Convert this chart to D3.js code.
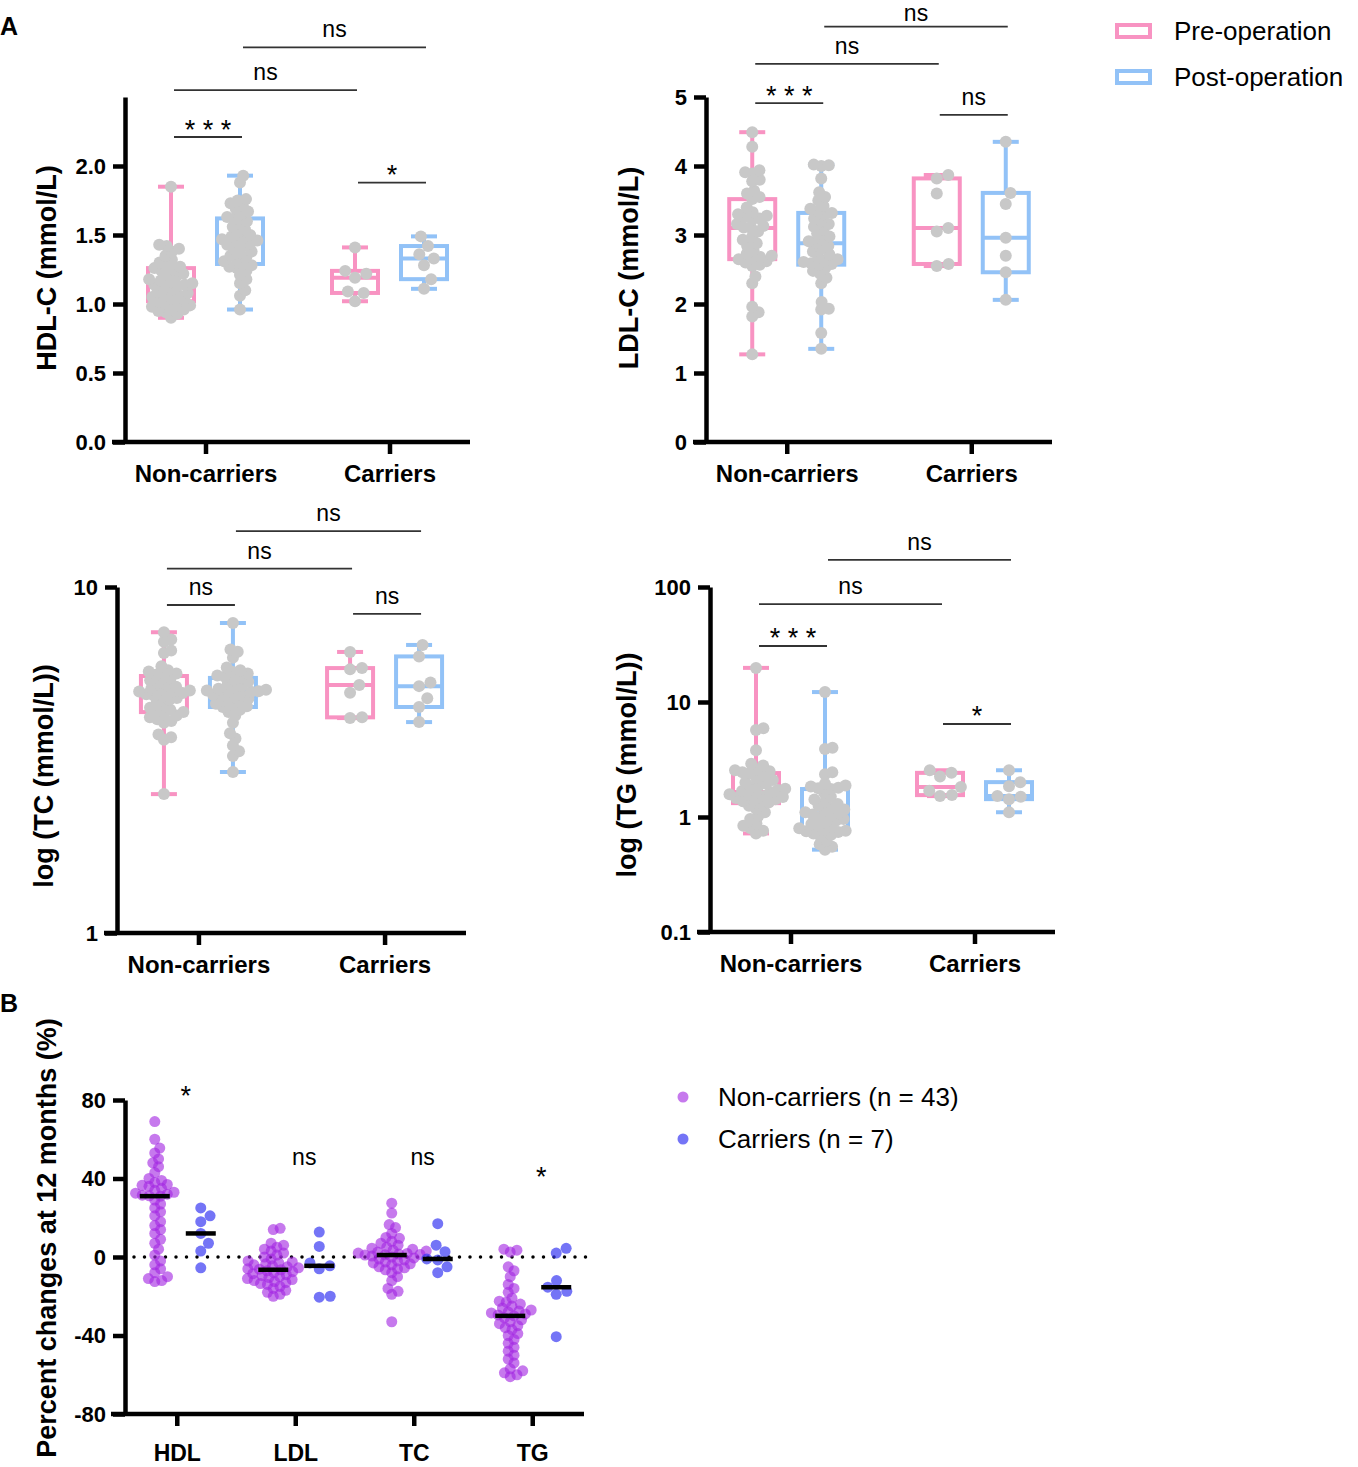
<!DOCTYPE html>
<meta charset="utf-8">
<script src="https://cdn.jsdelivr.net/npm/d3@7/dist/d3.min.js"></script>
<style>

body {
  margin: 0;
  background: #fff;
}

svg {
  font-family: Arial, "Liberation Sans", sans-serif;
}

</style>
<body>
<script>

  //////////////////// Data ////////////////////

  var groups = ["Non-carriers", "Carriers"],
      phases = ["Pre-operation", "Post-operation"],
      lipids = ["HDL", "LDL", "TC", "TG"];

  // HDL-C (mmol/L)
  var hdlPreNC = [1.85, 1.43, 1.42, 1.40, 1.38, 1.35, 1.32, 1.30, 1.28, 1.27, 1.26, 1.25, 1.24, 1.22, 1.21, 1.20, 1.18, 1.17, 1.16, 1.15, 1.14, 1.14, 1.13, 1.12, 1.10, 1.09, 1.08, 1.07, 1.06, 1.05, 1.04, 1.03, 1.02, 1.01, 1.00, 0.99, 0.98, 0.97, 0.96, 0.95, 0.94, 0.93, 0.90],
      hdlPostNC = [1.93, 1.88, 1.76, 1.75, 1.73, 1.71, 1.69, 1.67, 1.65, 1.63, 1.62, 1.60, 1.58, 1.56, 1.54, 1.52, 1.50, 1.49, 1.48, 1.47, 1.46, 1.45, 1.44, 1.43, 1.42, 1.40, 1.38, 1.37, 1.35, 1.34, 1.32, 1.31, 1.29, 1.28, 1.27, 1.26, 1.24, 1.21, 1.18, 1.15, 1.10, 1.06, 0.96],
      hdlPreC = [1.41, 1.24, 1.22, 1.19, 1.09, 1.08, 1.02],
      hdlPostC = [1.49, 1.42, 1.36, 1.33, 1.28, 1.18, 1.11];

  // LDL-C (mmol/L)
  var ldlPreNC = [4.49, 4.28, 3.94, 3.91, 3.89, 3.80, 3.78, 3.64, 3.60, 3.55, 3.52, 3.40, 3.33, 3.30, 3.28, 3.26, 3.24, 3.22, 3.16, 3.13, 3.11, 3.10, 3.05, 2.98, 2.93, 2.88, 2.84, 2.78, 2.73, 2.70, 2.68, 2.66, 2.65, 2.62, 2.60, 2.57, 2.55, 2.40, 2.30, 1.96, 1.88, 1.82, 1.27],
      ldlPostNC = [4.02, 4.01, 4.00, 3.82, 3.62, 3.55, 3.50, 3.42, 3.38, 3.35, 3.32, 3.30, 3.24, 3.20, 3.16, 3.12, 3.08, 3.02, 2.98, 2.94, 2.91, 2.88, 2.84, 2.80, 2.76, 2.72, 2.68, 2.65, 2.63, 2.61, 2.59, 2.58, 2.57, 2.52, 2.48, 2.44, 2.38, 2.30, 2.03, 1.93, 1.92, 1.58, 1.35],
      ldlPreC = [3.87, 3.82, 3.60, 3.10, 3.05, 2.58, 2.55],
      ldlPostC = [4.35, 3.61, 3.45, 2.96, 2.70, 2.46, 2.06];

  // TC (mmol/L), log axis
  var tcPreNC = [7.40, 7.05, 6.95, 6.55, 6.45, 5.90, 5.75, 5.70, 5.62, 5.58, 5.53, 5.45, 5.38, 5.30, 5.22, 5.15, 5.10, 5.06, 5.02, 4.99, 4.96, 4.94, 4.90, 4.86, 4.82, 4.78, 4.72, 4.64, 4.56, 4.48, 4.42, 4.38, 4.35, 4.30, 4.25, 4.20, 4.15, 4.10, 4.05, 3.75, 3.68, 3.62, 2.52],
      tcPostNC = [7.87, 6.60, 6.50, 6.25, 5.85, 5.75, 5.68, 5.62, 5.55, 5.50, 5.46, 5.40, 5.32, 5.25, 5.18, 5.12, 5.08, 5.05, 5.02, 5.00, 4.98, 4.97, 4.92, 4.88, 4.84, 4.80, 4.75, 4.70, 4.65, 4.60, 4.56, 4.52, 4.50, 4.42, 4.35, 4.25, 4.05, 3.78, 3.65, 3.48, 3.35, 3.25, 2.92],
      tcPreC = [6.49, 5.83, 5.78, 5.21, 4.95, 4.20, 4.18],
      tcPostC = [6.80, 6.30, 5.30, 5.17, 4.77, 4.50, 4.07];

  // TG (mmol/L), log axis
  var tgPreNC = [19.8, 5.9, 5.7, 3.8, 2.9, 2.8, 2.6, 2.55, 2.5, 2.45, 2.41, 2.3, 2.2, 2.1, 2.0, 1.95, 1.88, 1.82, 1.76, 1.72, 1.68, 1.65, 1.62, 1.58, 1.55, 1.52, 1.49, 1.46, 1.43, 1.40, 1.37, 1.34, 1.32, 1.25, 1.18, 1.10, 1.02, 0.96, 0.88, 0.84, 0.80, 0.76, 0.72],
      tgPostNC = [12.2, 4.0, 3.9, 2.45, 2.35, 1.95, 1.88, 1.84, 1.80, 1.78, 1.75, 1.62, 1.50, 1.42, 1.36, 1.30, 1.25, 1.20, 1.16, 1.13, 1.10, 1.08, 1.05, 1.02, 0.99, 0.96, 0.93, 0.90, 0.87, 0.84, 0.82, 0.80, 0.77, 0.76, 0.75, 0.74, 0.72, 0.70, 0.68, 0.62, 0.58, 0.55, 0.52],
      tgPreC = [2.55, 2.42, 2.25, 1.82, 1.69, 1.55, 1.52],
      tgPostC = [2.55, 2.01, 1.85, 1.52, 1.50, 1.43, 1.10];

  // Significance brackets: [from box, to box, height in data units, label]
  // boxes: 0 pre/non-carriers, 1 post/non-carriers, 2 pre/carriers, 3 post/carriers
  var sigHdl = [[0, 1, 2.21, "* * *"], [0, 2, 2.55, "ns"], [1, 3, 2.86, "ns"], [2, 3, 1.88, "*"]],
      sigLdl = [[0, 1, 4.91, "* * *"], [0, 2, 5.48, "ns"], [1, 3, 6.02, "ns"], [2, 3, 4.74, "ns"]],
      sigTc = [[0, 1, 8.87, "ns"], [0, 2, 11.3, "ns"], [1, 3, 14.5, "ns"], [2, 3, 8.36, "ns"]],
      sigTg = [[0, 1, 30.7, "* * *"], [0, 2, 71, "ns"], [1, 3, 172, "ns"], [2, 3, 6.44, "*"]];

  // Percent changes at 12 months (%)
  var chgHdlNC = [69, 60, 55.5, 53, 50, 48, 46, 43, 40, 39, 38, 37, 36.5, 36, 35, 34, 33, 32.5, 32, 31.5, 31.2, 31, 29, 27, 25, 23, 21, 18, 16, 14, 12, 9, 7, 4, 1, -2, -4, -6, -8, -10, -11, -12, -12.5],
      chgLdlNC = [14.6, 14, 7, 6, 5, 4, 3, 2, 1, 0, -1, -2, -2.5, -3, -3.5, -4, -4.5, -5, -5.5, -6, -6.2, -6.5, -7, -7.5, -8, -8.5, -9, -9.5, -10, -10.5, -11, -11.5, -12, -12.5, -13, -13.5, -14, -15, -16, -17, -18, -19, -20],
      chgTcNC = [27.4, 22.4, 16.5, 15, 12, 10, 9.5, 8, 7, 6, 5, 4.5, 4, 3.5, 3, 2.5, 2, 1.8, 1.5, 1.3, 1.1, 1, 0.5, 0, -0.5, -1, -1.5, -2, -2.5, -3, -3.5, -4, -5, -5.5, -6, -6.5, -8, -10, -12, -16, -17.5, -19, -33],
      chgTgNC = [4, 3.5, 2.5, -5, -7, -10, -14, -16, -18, -21, -23, -22.5, -24, -25, -26, -27, -27.5, -28, -28.5, -29, -29.5, -30, -31, -32, -33, -34, -35, -36, -37, -39, -40, -42, -44, -46, -48, -50, -52, -54, -57, -58, -59, -60, -61];
  var chgHdlC = [25, 21, 18, 12, 7, 3, -5.5],
      chgLdlC = [12.7, 5.4, -3, -4.5, -6, -20, -20.5],
      chgTcC = [17, 6, 2.7, -1, -1.5, -5, -8],
      chgTgC = [4.4, 2, -12, -15.4, -17.5, -19, -40.6];
  var sigChg = ["*", "ns", "ns", "*"],
      sigChgY = [77.5, 47, 47, 36.2];

  //////////////////// Setup ////////////////////

  var pink = "#f893c2",
      blue = "#92c2f7",
      purple = "#a326e2",
      navy = "#3232f2",
      grey = "#c8c8c8";

  var svg = d3.select("body").append("svg")
    .attr("width", 1358)
    .attr("height", 1467);

  // quartile, GraphPad style (n+1 positions)
  function quart(s, p) {
    var pos = (s.length + 1) * p - 1,
        lo = Math.max(0, Math.floor(pos)),
        hi = Math.min(s.length - 1, lo + 1);
    return s[lo] + (s[hi] - s[lo]) * (pos - lo);
  }

  // simple beeswarm: spread points sideways so they do not pile up
  function swarm(vals, y, cx, dmin) {
    var placed = [];
    vals.slice().sort(d3.ascending).forEach(function(v) {
      var py = y(v);
      var near = placed.filter(function(p) { return Math.abs(p.y - py) < dmin; });
      var cands = [0];
      near.forEach(function(p) {
        var dx = Math.sqrt(dmin * dmin - (p.y - py) * (p.y - py));
        cands.push(p.x - cx + dx, p.x - cx - dx);
      });
      cands.sort(function(a, b) { return Math.abs(a) - Math.abs(b); });
      var off = cands.find(function(c) {
        return near.every(function(p) {
          var dx = p.x - cx - c, dy = p.y - py;
          return dx * dx + dy * dy >= dmin * dmin - 0.01;
        });
      });
      placed.push({v: v, x: cx + off, y: py});
    });
    return placed;
  }

  function styleAxis(sel, size) {
    sel.select(".domain").attr("stroke", "#000").attr("stroke-width", 4.5);
    sel.selectAll(".tick line").attr("stroke", "#000").attr("stroke-width", 4.5);
    sel.selectAll(".tick text")
      .attr("fill", "#000")
      .attr("font-size", size + "px")
      .attr("font-weight", "bold");
  }

  //////////////////// Box panels (A) ////////////////////

  function boxPanel(p) {
    var g = svg.append("g");

    var y = (p.log ? d3.scaleLog() : d3.scaleLinear())
      .domain(p.domain)
      .range([p.bottom, p.top]);

    var xg = d3.scalePoint()
      .domain(groups)
      .range([p.left, p.right])
      .padding(0.4375);

    var xs = function(i) { return xg(groups[i >> 1]) + (i % 2 ? 34.5 : -34.5); };

    // boxes and whiskers
    p.series.forEach(function(vals, i) {
      var s = vals.slice().sort(d3.ascending),
          cx = xs(i),
          q1 = quart(s, 0.25), md = quart(s, 0.5), q3 = quart(s, 0.75),
          lo = s[0], hi = s[s.length - 1];

      var b = g.append("g")
        .attr("stroke", i % 2 ? blue : pink)
        .attr("stroke-width", 4)
        .attr("fill", "none");

      b.append("line").attr("x1", cx).attr("x2", cx).attr("y1", y(hi)).attr("y2", y(q3));
      b.append("line").attr("x1", cx).attr("x2", cx).attr("y1", y(q1)).attr("y2", y(lo));
      b.append("line").attr("x1", cx - 13).attr("x2", cx + 13).attr("y1", y(hi)).attr("y2", y(hi));
      b.append("line").attr("x1", cx - 13).attr("x2", cx + 13).attr("y1", y(lo)).attr("y2", y(lo));
      b.append("rect")
        .attr("x", cx - 23)
        .attr("y", y(q3))
        .attr("width", 46)
        .attr("height", y(q1) - y(q3));
      b.append("line").attr("x1", cx - 23).attr("x2", cx + 23).attr("y1", y(md)).attr("y2", y(md));
    });

    // individual values (small groups are spread a bit wider)
    p.series.forEach(function(vals, i) {
      g.append("g").selectAll("circle")
        .data(swarm(vals, y, xs(i), vals.length < 10 ? 12 : 7.6))
        .join("circle")
        .attr("cx", function(d) { return d.x; })
        .attr("cy", function(d) { return d.y; })
        .attr("r", 6)
        .attr("fill", grey);
    });

    // y axis
    var yAxis = d3.axisLeft(y)
      .tickValues(p.ticks)
      .tickFormat(p.fmt)
      .tickSize(12)
      .tickSizeOuter(0)
      .tickPadding(7);

    g.append("g")
      .attr("transform", "translate(" + p.left + ",0)")
      .call(yAxis)
      .call(styleAxis, 22);

    // x axis
    g.append("line")
      .attr("x1", p.left - 13).attr("x2", p.right)
      .attr("y1", p.bottom).attr("y2", p.bottom)
      .attr("stroke", "#000")
      .attr("stroke-width", 4.5);

    g.append("g")
      .attr("transform", "translate(0," + p.bottom + ")")
      .call(d3.axisBottom(xg).tickSize(12).tickPadding(11))
      .call(styleAxis, 24)
      .select(".domain").remove();

    // y title
    g.append("text")
      .attr("transform", "translate(" + p.titleX + "," + p.titleY + ") rotate(-90)")
      .attr("text-anchor", "middle")
      .attr("font-size", "27px")
      .attr("font-weight", "bold")
      .text(p.title);

    // significance brackets
    p.sig.forEach(function(b) {
      var x1 = xs(b[0]) + 3, x2 = xs(b[1]) + 2, yy = y(b[2]),
          star = b[3].indexOf("*") >= 0;
      g.append("line")
        .attr("x1", x1).attr("x2", x2)
        .attr("y1", yy).attr("y2", yy)
        .attr("stroke", "#333")
        .attr("stroke-width", 1.8);
      g.append("text")
        .attr("x", (x1 + x2) / 2)
        .attr("y", star ? yy + 1.5 : Math.max(yy - 10, 21))
        .attr("text-anchor", "middle")
        .attr("font-size", star ? "27px" : "23px")
        .text(b[3]);
    });
  }

  boxPanel({
    left: 125, right: 470, top: 97, bottom: 442,
    domain: [0, 2.5], ticks: [0, 0.5, 1, 1.5, 2], fmt: d3.format(".1f"),
    title: "HDL-C (mmol/L)", titleX: 56, titleY: 268,
    series: [hdlPreNC, hdlPostNC, hdlPreC, hdlPostC], sig: sigHdl
  });

  boxPanel({
    left: 706, right: 1052, top: 97, bottom: 442,
    domain: [0, 5], ticks: [0, 1, 2, 3, 4, 5], fmt: d3.format("d"),
    title: "LDL-C (mmol/L)", titleX: 638, titleY: 268,
    series: [ldlPreNC, ldlPostNC, ldlPreC, ldlPostC], sig: sigLdl
  });

  boxPanel({
    left: 117, right: 466, top: 587, bottom: 933, log: true,
    domain: [1, 10], ticks: [1, 10], fmt: function(d) { return String(d); },
    title: "log (TC (mmol/L))", titleX: 53, titleY: 776,
    series: [tcPreNC, tcPostNC, tcPreC, tcPostC], sig: sigTc
  });

  boxPanel({
    left: 710, right: 1055, top: 587, bottom: 932, log: true,
    domain: [0.1, 100], ticks: [0.1, 1, 10, 100], fmt: function(d) { return String(d); },
    title: "log (TG (mmol/L))", titleX: 636, titleY: 765,
    series: [tgPreNC, tgPostNC, tgPreC, tgPostC], sig: sigTg
  });

  // legend A
  var legA = svg.append("g");
  phases.forEach(function(ph, i) {
    legA.append("rect")
      .attr("x", 1117).attr("y", 25 + i * 46)
      .attr("width", 33).attr("height", 12)
      .attr("fill", "none")
      .attr("stroke", i ? blue : pink)
      .attr("stroke-width", 4);
    legA.append("text")
      .attr("x", 1174).attr("y", 40 + i * 46)
      .attr("font-size", "26px")
      .text(ph);
  });

  //////////////////// Percent changes (B) ////////////////////

  var gB = svg.append("g");

  var yB = d3.scaleLinear()
    .domain([-80, 80])
    .range([1414, 1100]);

  var xB = d3.scalePoint()
    .domain(lipids)
    .range([125, 584])
    .padding(0.437);

  // zero reference line
  gB.append("line")
    .attr("x1", 134).attr("x2", 594)
    .attr("y1", yB(0)).attr("y2", yB(0))
    .attr("stroke", "#000")
    .attr("stroke-width", 3.5)
    .attr("stroke-linecap", "round")
    .attr("stroke-dasharray", "0,10.5");

  var chgNC = [chgHdlNC, chgLdlNC, chgTcNC, chgTgNC],
      chgC = [chgHdlC, chgLdlC, chgTcC, chgTgC];

  [[chgNC, -22, purple, 0.62, 7], [chgC, 24, navy, 0.68, 11]].forEach(function(set) {
    set[0].forEach(function(vals, i) {
      var cx = xB(lipids[i]) + set[1];
      gB.append("g").selectAll("circle")
        .data(swarm(vals, yB, cx, set[4]))
        .join("circle")
        .attr("cx", function(d) { return d.x; })
        .attr("cy", function(d) { return d.y; })
        .attr("r", 5.5)
        .attr("fill", set[2])
        .attr("fill-opacity", set[3]);
      var md = d3.median(vals);
      gB.append("line")
        .attr("x1", cx - 15).attr("x2", cx + 15)
        .attr("y1", yB(md)).attr("y2", yB(md))
        .attr("stroke", "#000")
        .attr("stroke-width", 4.5);
    });
  });

  gB.append("g")
    .attr("transform", "translate(125,0)")
    .call(d3.axisLeft(yB).tickValues([-80, -40, 0, 40, 80]).tickFormat(function(d) { return String(d); })
      .tickSize(12).tickSizeOuter(0).tickPadding(7))
    .call(styleAxis, 22);

  gB.append("line")
    .attr("x1", 111).attr("x2", 584)
    .attr("y1", 1414).attr("y2", 1414)
    .attr("stroke", "#000")
    .attr("stroke-width", 4.5);

  gB.append("g")
    .attr("transform", "translate(0,1414)")
    .call(d3.axisBottom(xB).tickSize(12).tickPadding(19))
    .call(styleAxis, 23)
    .select(".domain").remove();

  gB.append("text")
    .attr("transform", "translate(56,1238) rotate(-90)")
    .attr("text-anchor", "middle")
    .attr("font-size", "27px")
    .attr("font-weight", "bold")
    .text("Percent changes at 12 months (%)");

  sigChg.forEach(function(s, i) {
    gB.append("text")
      .attr("x", xB(lipids[i]) + 9)
      .attr("y", yB(sigChgY[i]))
      .attr("text-anchor", "middle")
      .attr("font-size", s === "*" ? "27px" : "23px")
      .text(s);
  });

  // legend B
  var legB = svg.append("g");
  [["Non-carriers (n = 43)", purple, 0.62], ["Carriers (n = 7)", navy, 0.68]].forEach(function(d, i) {
    legB.append("circle")
      .attr("cx", 683).attr("cy", 1097 + i * 42)
      .attr("r", 5.5)
      .attr("fill", d[1])
      .attr("fill-opacity", d[2]);
    legB.append("text")
      .attr("x", 718).attr("y", 1106 + i * 42)
      .attr("font-size", "26px")
      .text(d[0]);
  });

  // panel letters
  svg.append("text").attr("x", 0).attr("y", 35)
    .attr("font-size", "25px").attr("font-weight", "bold").text("A");
  svg.append("text").attr("x", 0).attr("y", 1012)
    .attr("font-size", "25px").attr("font-weight", "bold").text("B");

</script>
</body>
</html>
